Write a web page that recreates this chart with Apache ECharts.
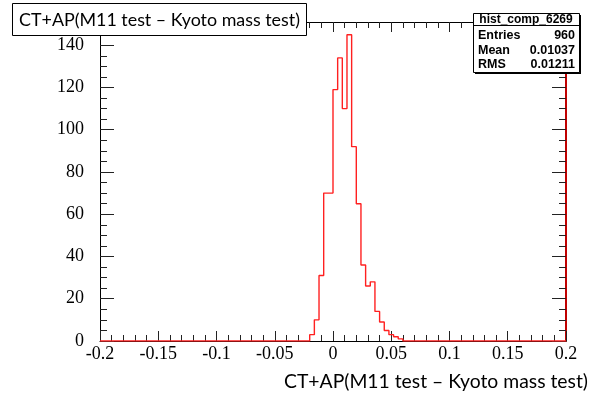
<!DOCTYPE html>
<html><head><meta charset="utf-8">
<script src="https://cdn.jsdelivr.net/npm/echarts@6/dist/echarts.min.js"></script>
<style>html,body{margin:0;padding:0;background:#fff}#c{width:607px;height:394px}</style>
</head><body><div id="c"></div>
<script>
// ---- data ----
const xMin = -0.2, xMax = 0.2, binWidth = 0.004;
const yMin = 0, yMax = 151;
const xTickInterval = 0.05, yMajorInterval = 20, yMinorInterval = 5;
const dataStart = -0.02;           // left edge of first non-empty bin
const counts = [3, 10, 31, 70, 70, 119, 134, 110, 145, 92, 65, 36, 26, 28, 14, 9, 5, 3, 2, 1];
const titleText = 'CT+AP(M11 test – Kyoto mass test)';
const xTitleText = 'CT+AP(M11 test – Kyoto mass test)';
const statsName = 'hist_comp_6269';
const statsLabels = ['Entries', 'Mean', 'RMS'];
const statsValues = ['960', '0.01037', '0.01211'];

// ---- build histogram outline from bins ----
const nBins = Math.round((xMax - xMin) / binWidth);
const startIdx = Math.round((dataStart - xMin) / binWidth);
const histData = [];
for (let i = 0; i < nBins; i++) {
  const k = i - startIdx;
  const c = (k >= 0 && k < counts.length) ? counts[k] : 0;
  histData.push([xMin + i * binWidth, c]);
}
histData.push([xMax, 0]);

function fitFont(text, weight, family, targetW) {
  const ctx = document.createElement('canvas').getContext('2d');
  ctx.font = weight + ' 100px ' + family;
  const w = ctx.measureText(text).width;
  return 100 * targetW / w;
}
const titleFamily = 'Lato';
const titleSize = fitFont(titleText, 'normal', titleFamily, 281);
const xTitleSize = fitFont(xTitleText, 'normal', titleFamily, 304);

const serif = '"Liberation Serif", "DejaVu Serif", serif';
const labelStyle = { fontFamily: serif, fontSize: 18, color: '#000' };
const black = '#000';

const chart = echarts.init(document.getElementById('c'), null, { renderer: 'canvas' });

function xAx(pos, showLabel) {
  return {
    type: 'value', position: pos, min: xMin, max: xMax, interval: xTickInterval,
    axisLine: { show: true, onZero: false, lineStyle: { color: black, width: 1 } },
    axisTick: { show: true, inside: true, length: 10, lineStyle: { color: '#222', width: 1 } },
    minorTick: { show: true, splitNumber: 5, length: 6, lineStyle: { color: '#222', width: 1 } },
    axisLabel: showLabel ? Object.assign({ margin: 4 }, labelStyle) : { show: false },
    splitLine: { show: false }
  };
}
function yAx(pos, interval, len, showLabel, lineColor, showLine) {
  return {
    type: 'value', position: pos, min: yMin, max: yMax, interval: interval,
    axisLine: { show: showLine, onZero: false, lineStyle: { color: lineColor, width: pos === 'right' ? 2 : 1 } },
    axisTick: { show: true, inside: true, length: len, lineStyle: { color: '#222', width: 1 } },
    axisLabel: showLabel ? Object.assign({ margin: 16, showMaxLabel: false }, labelStyle) : { show: false },
    splitLine: { show: false }
  };
}

const statsX = 473, statsY = 13, statsW = 106, statsH = 59;

chart.setOption({
  animation: false,
  backgroundColor: '#fff',
  grid: { left: 100, right: 41, top: 22, bottom: 53, containLabel: false },
  xAxis: [xAx('bottom', true), xAx('top', false)],
  yAxis: [
    yAx('left', yMajorInterval, 14, true, black, true),
    yAx('left', yMinorInterval, 7, false, black, false),
    yAx('right', yMajorInterval, 14, false, '#c00000', true),
    yAx('right', yMinorInterval, 7, false, '#c00000', false)
  ],
  series: [{
    type: 'line', xAxisIndex: 0, yAxisIndex: 0, step: 'end', data: histData,
    showSymbol: false, symbol: 'none', z: 5,
    lineStyle: { color: '#ff2020', width: 1.4 }
  }],
  graphic: [
    { type: 'rect', z: 100, shape: { x: 12.5, y: 3.5, width: 294, height: 32 },
      style: { fill: '#fff', stroke: '#000', lineWidth: 1 } },
    { type: 'text', z: 101, x: 159.5, y: 20, style: { text: titleText, font: 'normal ' + titleSize.toFixed(2) + 'px ' + titleFamily,
      fill: '#000', align: 'center', verticalAlign: 'middle' } },
    { type: 'text', z: 101, x: 588, y: 382, style: { text: xTitleText, font: 'normal ' + xTitleSize.toFixed(2) + 'px ' + titleFamily,
      fill: '#000', align: 'right', verticalAlign: 'middle' } },
    // stats box shadow + box
    { type: 'rect', z: 100, shape: { x: statsX + 2, y: statsY + 2, width: statsW, height: statsH }, style: { fill: '#000' } },
    { type: 'rect', z: 101, shape: { x: statsX + 0.5, y: statsY + 0.5, width: statsW, height: statsH },
      style: { fill: '#fff', stroke: '#000', lineWidth: 1 } },
    { type: 'line', z: 102, shape: { x1: statsX, y1: statsY + 12.5, x2: statsX + statsW, y2: statsY + 12.5 },
      style: { stroke: '#000', lineWidth: 1 } },
    { type: 'text', z: 102, x: statsX + statsW / 2, y: statsY + 7, style: { text: statsName,
      font: 'bold 12px "Liberation Sans", Arial, sans-serif', fill: '#000', align: 'center', verticalAlign: 'middle' } },
    ...statsLabels.map((t, i) => ({ type: 'text', z: 102, x: statsX + 5, y: statsY + 23 + i * 14.5,
      style: { text: t, font: 'bold 12.5px "Liberation Sans", Arial, sans-serif', fill: '#000', align: 'left', verticalAlign: 'middle' } })),
    ...statsValues.map((t, i) => ({ type: 'text', z: 102, x: statsX + statsW - 4, y: statsY + 23 + i * 14.5,
      style: { text: t, font: 'bold 12.5px "Liberation Sans", Arial, sans-serif', fill: '#000', align: 'right', verticalAlign: 'middle' } }))
  ]
});
</script></body></html>
